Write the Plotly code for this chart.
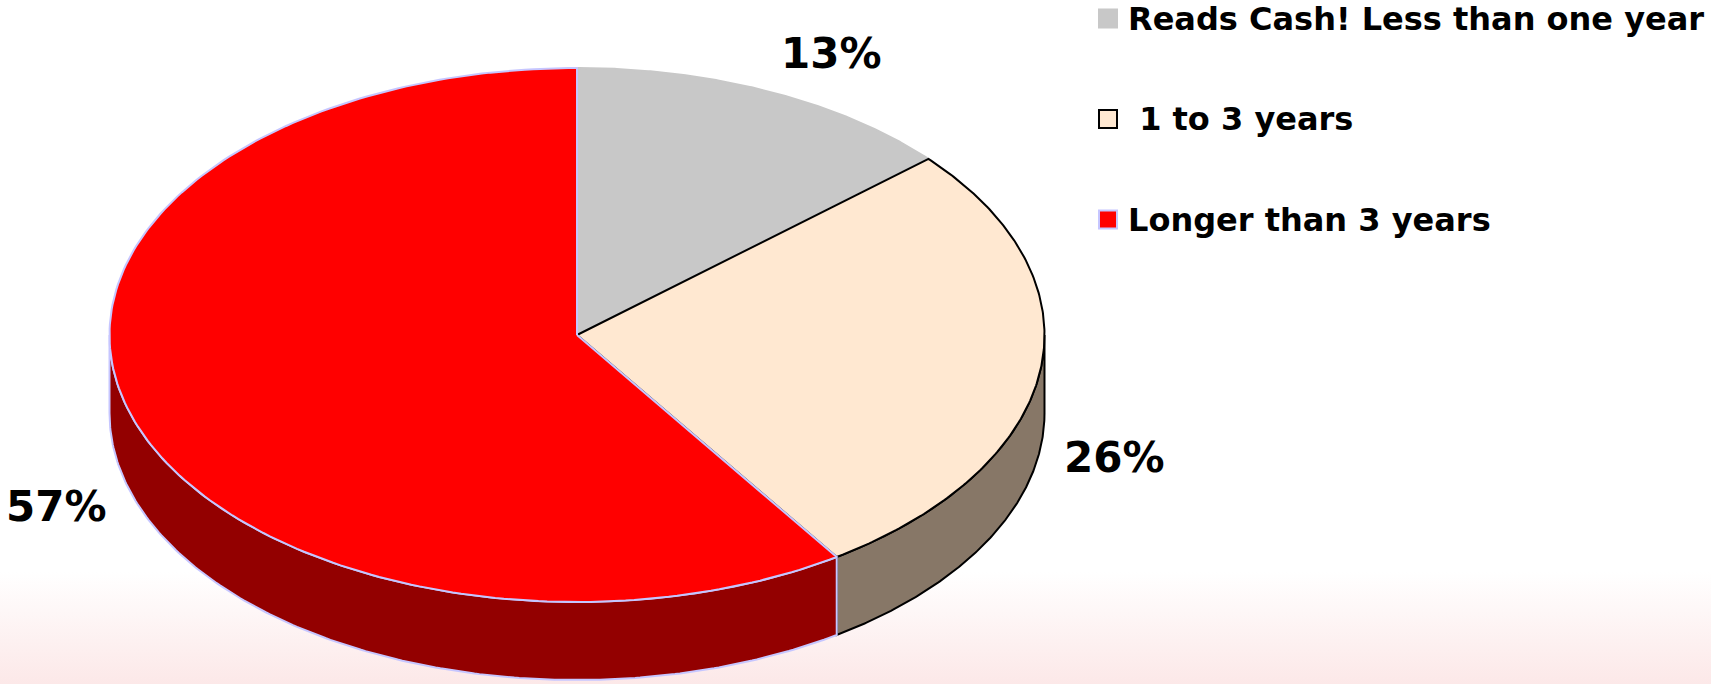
import math
import plotly.graph_objects as go

# ---- data ----
categories = ["Reads Cash! Less than one year", "\u00a01 to 3 years", "Longer than 3 years"]
values = [13, 26, 57]
label_texts = [f"{v}%" for v in values]

top_colors = ["#C8C8C8", "#FFE8D1", "#FF0000"]
side_colors = ["#8C8C8C", "#877767", "#930000"]
edge_colors = ["#C8C8C8", "#000000", "#C6C6FF"]

# ---- geometry (layout) ----
W, H = 1711, 684
cx, cy, rx, ry, depth = 577, 335, 467.5, 267, 78

total = sum(values)
bounds = [0.0]
for v in values:
    bounds.append(bounds[-1] + v / total * 2 * math.pi)


def ept(t, dy=0.0):
    return cx + rx * math.sin(t), cy - ry * math.cos(t) + dy


def arc(a, b, dy=0.0, n=200):
    pts = []
    for k in range(n + 1):
        t = a + (b - a) * k / n
        pts.append(ept(t, dy))
    return pts


fig = go.Figure()

# background gradient strip at bottom
fig.add_trace(go.Scatter(
    x=[0, W, W, 0, 0], y=[572, 572, H, H, 572], mode="lines", fill="toself",
    line=dict(width=0), hoverinfo="skip", showlegend=False,
    fillgradient=dict(type="vertical",
                      colorscale=[[0, "rgba(252,232,232,1)"], [1, "rgba(255,255,255,1)"]]),
))

# side faces (visible front part: pi/2 .. 3pi/2)
for i in range(len(values)):
    a = max(bounds[i], math.pi / 2)
    b = min(bounds[i + 1], 3 * math.pi / 2)
    if b <= a:
        continue
    top = arc(a, b)
    bot = arc(b, a, depth)
    pts = top + bot + [top[0]]
    fig.add_trace(go.Scatter(
        x=[p[0] for p in pts], y=[p[1] for p in pts], mode="lines", fill="toself",
        fillcolor=side_colors[i], line=dict(color=edge_colors[i], width=2),
        hoverinfo="skip", showlegend=False,
    ))

# top faces
for i in range(len(values)):
    pts = [(cx, cy)] + arc(bounds[i], bounds[i + 1]) + [(cx, cy)]
    fig.add_trace(go.Scatter(
        x=[p[0] for p in pts], y=[p[1] for p in pts], mode="lines", fill="toself",
        fillcolor=top_colors[i], line=dict(color=edge_colors[i], width=2),
        name=categories[i], hoverinfo="skip", showlegend=False,
    ))

# percentage labels
for i in range(len(values)):
    m = (bounds[i] + bounds[i + 1]) / 2
    s, c = math.sin(m), math.cos(m)
    lx = cx + (rx + 22) * s
    ly = cy - (ry + 42) * c + (depth + 4 if c < 0 else 0)
    fig.add_annotation(
        x=lx, y=ly, text=label_texts[i], showarrow=False,
        xanchor="left" if s > 0 else "right", yanchor="middle",
        font=dict(family="DejaVu Sans", size=42, color="black", weight="bold"),
    )

# manual legend
leg_x, leg_y0, leg_dy = 1108, 18.5, 100.5
fig.add_trace(go.Scatter(
    x=[leg_x] * len(categories), y=[leg_y0 + k * leg_dy for k in range(len(categories))],
    mode="markers",
    marker=dict(symbol="square", size=18, color=top_colors,
                line=dict(color=edge_colors, width=2)),
    hoverinfo="skip", showlegend=False,
))
for k, cat in enumerate(categories):
    fig.add_annotation(
        x=leg_x + 18, y=leg_y0 + k * leg_dy, text=cat, showarrow=False,
        xanchor="left", yanchor="middle",
        font=dict(family="DejaVu Sans", size=32, color="black", weight="bold"),
    )

fig.update_layout(
    width=W, height=H, margin=dict(l=0, r=0, t=0, b=0),
    paper_bgcolor="white", plot_bgcolor="white",
    xaxis=dict(range=[0, W], visible=False, fixedrange=True),
    yaxis=dict(range=[H, 0], visible=False, fixedrange=True),
    showlegend=False,
)

fig.write_html("out.html", config={"displayModeBar": False},
               post_script="document.body.style.margin='0';document.body.style.overflow='hidden';")
